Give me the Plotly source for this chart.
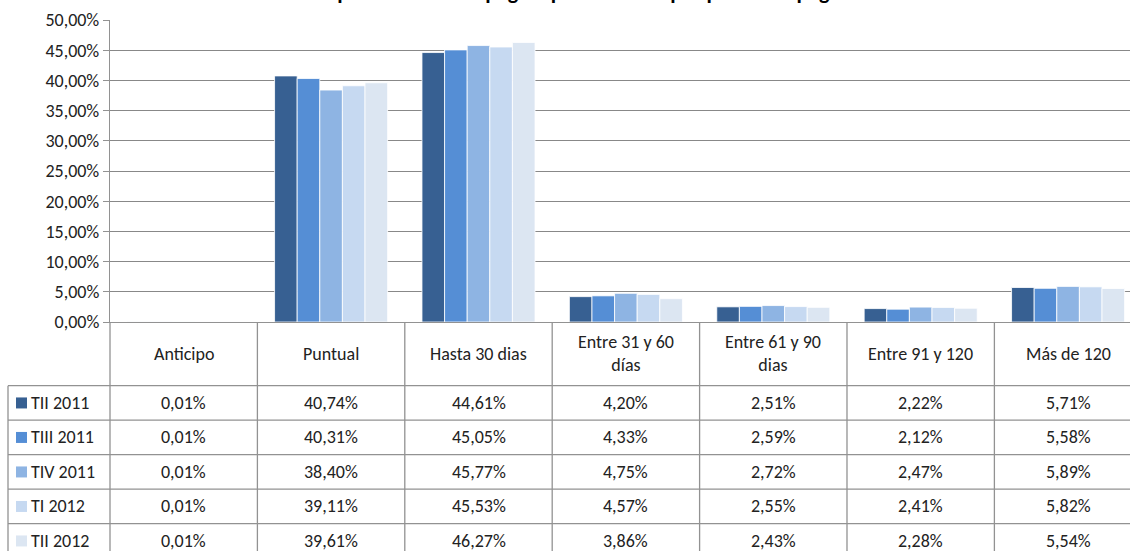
import plotly.graph_objects as go

# ---------------- data ----------------
categories = ["Anticipo", "Puntual", "Hasta 30 dias", "Entre 31 y 60 días",
              "Entre 61 y 90 dias", "Entre 91 y 120", "Más de 120"]
header_labels = ["Anticipo", "Puntual", "Hasta 30 dias", "Entre 31 y 60<br>días",
                 "Entre 61 y 90<br>dias", "Entre 91 y 120", "Más de 120"]
series_names = ["TII 2011", "TIII 2011", "TIV 2011", "TI 2012", "TII 2012"]
tii_2011 = [0.01, 40.74, 44.61, 4.20, 2.51, 2.22, 5.71]
tiii_2011 = [0.01, 40.31, 45.05, 4.33, 2.59, 2.12, 5.58]
tiv_2011 = [0.01, 38.40, 45.77, 4.75, 2.72, 2.47, 5.89]
ti_2012 = [0.01, 39.11, 45.53, 4.57, 2.55, 2.41, 5.82]
tii_2012 = [0.01, 39.61, 46.27, 3.86, 2.43, 2.28, 5.54]
series_values = [tii_2011, tiii_2011, tiv_2011, ti_2012, tii_2012]
colors = ["#376092", "#558ED5", "#8EB4E3", "#C6D9F1", "#DCE6F2"]
y_ticks = [0, 5, 10, 15, 20, 25, 30, 35, 40, 45, 50]
title_text = "Comportamiento de pago a proveedores por plazos de pago"

# ---------------- layout geometry ----------------
OFF = 0                      # page body margin removed via post_script
W, H = 1130, 551
ML, MR, MT, MB = 110, 0, 20, 229
PW, PH = W - ML - MR, H - MT - MB
XR = [-0.5, 6.42]
FONT = "Carlito, Calibri, Lato, sans-serif"
FS = 18
LINE = "#929292"


def fmt(v):
    return f"{v:.2f}".replace(".", ",") + "%"


def dx(d):  # data x -> paper x
    return (d - XR[0]) / (XR[1] - XR[0])


def px(p):  # page pixel x -> paper x
    return (p - OFF - ML) / PW


def py(p):  # page pixel y -> paper y
    return (MT + PH - (p - OFF)) / PH


x_idx = list(range(len(categories)))

fig = go.Figure()
for name, vals, col in zip(series_names, series_values, colors):
    fig.add_trace(go.Bar(
        x=x_idx, y=vals, name=name, marker_color=col,
        marker_line=dict(color="rgba(255,255,255,0.8)", width=1),
        showlegend=False,
    ))

shapes = []
annotations = []

# table geometry (page pixels)
axis_y = 322
header_bottom = 385.7
row_h = 34.5
row_lines = [header_bottom + i * row_h for i in range(len(series_names) + 1)]
table_bottom = row_lines[-1] + 5

# vertical lines at category boundaries (below the axis)
for k in range(len(categories)):
    shapes.append(dict(type="line", xref="paper", yref="paper",
                       x0=dx(k - 0.5), x1=dx(k - 0.5),
                       y0=py(axis_y), y1=py(table_bottom),
                       line=dict(color=LINE, width=1.3)))
# left border of legend column
shapes.append(dict(type="line", xref="paper", yref="paper",
                   x0=px(8), x1=px(8), y0=py(header_bottom), y1=py(table_bottom),
                   line=dict(color=LINE, width=1.3)))
# horizontal row lines
for yl in row_lines:
    shapes.append(dict(type="line", xref="paper", yref="paper",
                       x0=px(8), x1=1.0, y0=py(yl), y1=py(yl),
                       line=dict(color=LINE, width=1.3)))

# header labels
for k, lab in enumerate(header_labels):
    annotations.append(dict(x=k, xref="x", y=py((axis_y + header_bottom) / 2), yref="paper",
                            text=lab, showarrow=False, xanchor="center", yanchor="middle",
                            font=dict(family=FONT, size=FS, color="#222")))

# rows: legend key + values
for i, (name, vals, col) in enumerate(zip(series_names, series_values, colors)):
    cy = row_lines[i] + row_h / 2
    shapes.append(dict(type="rect", xref="paper", yref="paper",
                       x0=px(16), x1=px(27), y0=py(cy - 5.5), y1=py(cy + 5.5),
                       fillcolor=col, line=dict(width=0)))
    annotations.append(dict(x=px(29), xref="paper", y=py(cy), yref="paper",
                            text=name, showarrow=False, xanchor="left", yanchor="middle",
                            font=dict(family=FONT, size=FS, color="#222")))
    for k, v in enumerate(vals):
        annotations.append(dict(x=k, xref="x", y=py(cy), yref="paper",
                                text=fmt(v), showarrow=False, xanchor="center", yanchor="middle",
                                font=dict(family=FONT, size=FS, color="#222")))

# title (mostly cut off at the top, as in the reference)
annotations.append(dict(x=px(568), xref="paper", y=py(-9), yref="paper",
                        text="<b>" + title_text + "</b>", showarrow=False,
                        xanchor="center", yanchor="middle",
                        font=dict(family=FONT, size=22, color="#000")))

fig.update_layout(
    width=W, height=H,
    margin=dict(l=ML, r=MR, t=MT, b=MB, pad=0),
    paper_bgcolor="white", plot_bgcolor="white",
    barmode="group", bargap=0.233, bargroupgap=0,
    shapes=shapes, annotations=annotations,
    showlegend=False,
    xaxis=dict(range=XR, showticklabels=False, ticks="", showgrid=False,
               showline=True, linecolor=LINE, linewidth=1.3, zeroline=False, fixedrange=True),
    yaxis=dict(range=[0, 50], tickvals=y_ticks, ticktext=[fmt(v) for v in y_ticks],
               showgrid=True, gridcolor="#888888", gridwidth=1.2,
               showline=True, linecolor=LINE, linewidth=1.3,
               ticks="outside", ticklen=6, tickcolor=LINE,
               tickfont=dict(family=FONT, size=FS, color="#222"),
               zeroline=False, fixedrange=True),
)

fig.write_html("out.html", config={"displayModeBar": False},
               post_script="document.body.style.margin='0';document.body.style.overflow='hidden';")
